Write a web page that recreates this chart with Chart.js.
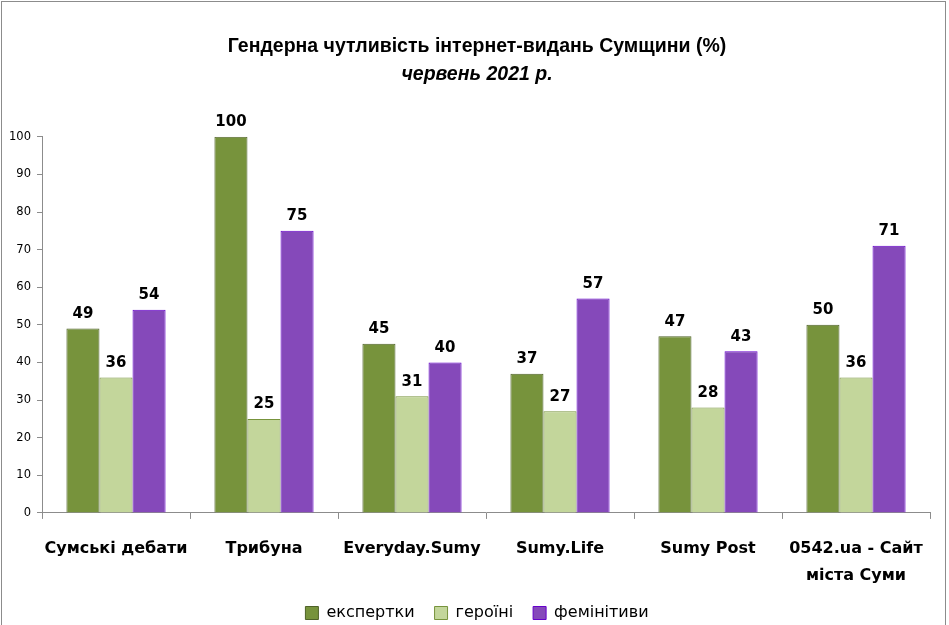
<!DOCTYPE html>
<html><head><meta charset="utf-8">
<script src="https://cdn.jsdelivr.net/npm/chart.js@4/dist/chart.umd.min.js"></script>
<style>
html,body{margin:0;padding:0;background:#fff;}
#wrap{position:relative;width:949px;height:625px;}
#frame{position:absolute;left:1px;top:1px;width:945px;height:630px;border:1px solid #8c8c8c;box-sizing:border-box;pointer-events:none;}
</style></head>
<body>
<div id="wrap"><canvas id="c" width="949" height="625"></canvas><div id="frame"></div></div>
<script>
const categories = ["Сумські дебати", "Трибуна", "Everyday.Sumy", "Sumy.Life", "Sumy Post", ["0542.ua - Сайт", "міста Суми"]];
const seriesNames = ["експертки", "героїні", "фемінітиви"];
const experts = [49, 100, 45, 37, 47, 50];
const heroines = [36, 25, 31, 27, 28, 36];
const feminitives = [54, 75, 40, 57, 43, 71];
const yTicks = [0, 10, 20, 30, 40, 50, 60, 70, 80, 90, 100];

const labelPlugin = {
  id: 'valueLabels',
  afterLayout(chart) {
    // let y tick labels extend into the left padding without clipping
    chart.scales.y.left = 0;
  },
  afterDatasetsDraw(chart) {
    const ctx = chart.ctx;
    ctx.save();
    ctx.font = 'bold 15px "DejaVu Sans"';
    ctx.fillStyle = '#000';
    ctx.textAlign = 'center';
    ctx.textBaseline = 'bottom';
    chart.data.datasets.forEach((ds, i) => {
      const meta = chart.getDatasetMeta(i);
      meta.data.forEach((bar, j) => {
        ctx.fillText(String(ds.data[j]), bar.x, bar.y - 7);
      });
    });
    ctx.restore();
  }
};

new Chart(document.getElementById('c'), {
  type: 'bar',
  data: {
    labels: categories,
    datasets: [
      {label: seriesNames[0], data: experts, backgroundColor: '#77933C', borderColor: '#4F6228', borderWidth: 1},
      {label: seriesNames[1], data: heroines, backgroundColor: '#C3D69B', borderColor: '#77933C', borderWidth: 1},
      {label: seriesNames[2], data: feminitives, backgroundColor: '#8549BA', borderColor: '#6600CC', borderWidth: 1}
    ]
  },
  options: {
    responsive: false,
    animation: false,
    devicePixelRatio: 1,
    categoryPercentage: 0.67,
    barPercentage: 1.0,
    layout: {padding: {left: 24, right: 19, top: 29, bottom: -6}},
    plugins: {
      title: {display: true, text: 'Гендерна чутливість інтернет-видань Сумщини (%)', color: '#000',
        font: {family: '"Liberation Sans Narrow", "Liberation Sans"', size: 19.5, weight: 'bold'}, padding: {top: 6, bottom: 5}},
      subtitle: {display: true, text: 'червень 2021 р.', color: '#000',
        font: {family: '"Liberation Sans Narrow", "Liberation Sans"', size: 19.5, weight: 'bold', style: 'italic'}, padding: {top: 0, bottom: 50}},
      legend: {position: 'bottom', labels: {color: '#000', boxWidth: 13, boxHeight: 13, padding: 20,
        font: {family: '"DejaVu Sans"', size: 16}}},
      tooltip: {enabled: false}
    },
    scales: {
      x: {
        afterFit(axis) { axis.height = axis.height - 21; },
        grid: {drawOnChartArea: false, drawTicks: true, tickLength: 6, color: '#8c8c8c', offset: true},
        border: {color: '#8c8c8c'},
        ticks: {color: '#000', padding: 16.5, font: {family: '"DejaVu Sans"', size: 16, weight: 'bold', lineHeight: 1.69}, maxRotation: 0, autoSkip: false}
      },
      y: {
        min: 0, max: 100,
        afterBuildTicks(axis) { axis.ticks = yTicks.map(v => ({value: v})); },
        afterFit(axis) { axis.width = 18; },
        grid: {drawOnChartArea: false, drawTicks: true, tickLength: 5, color: '#8c8c8c'},
        border: {color: '#8c8c8c'},
        ticks: {color: '#000', padding: 6, font: {family: '"DejaVu Sans"', size: 11.5}}
      }
    }
  },
  plugins: [labelPlugin]
});
</script>
</body></html>
